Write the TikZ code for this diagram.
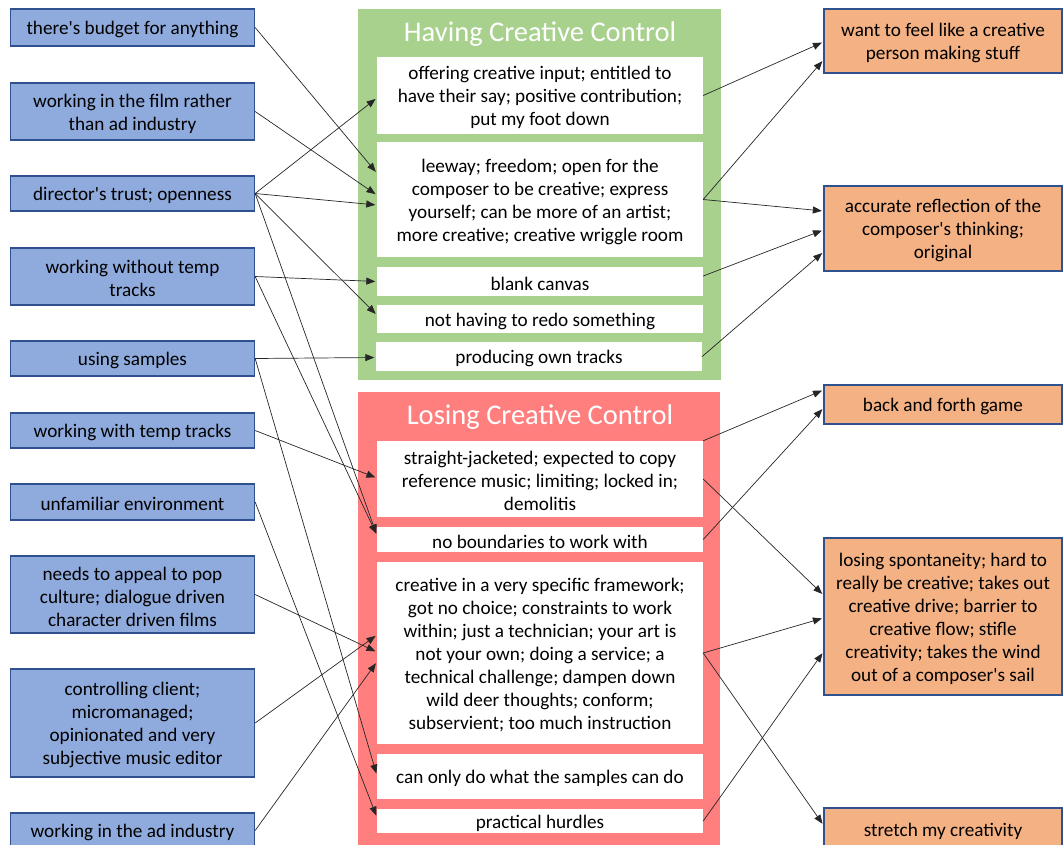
\documentclass[tikz,border=0pt]{standalone}
\usepackage{fontspec}
\setmainfont{Carlito}[Ligatures=TeXOff]
\usetikzlibrary{arrows.meta,calc}
\definecolor{bluefill}{HTML}{8FAADC}
\definecolor{blueline}{HTML}{2F528F}
\definecolor{greenfill}{HTML}{A9D18E}
\definecolor{redfill}{HTML}{FF7F7F}
\definecolor{orangefill}{HTML}{F4B183}
\begin{document}
\begin{tikzpicture}[x=1pt,y=-1pt,
 lab/.style={font=\fontsize{19.2}{23}\selectfont, align=center, inner sep=0pt, text=black, yshift=-2pt},
 box/.style={inner sep=0pt},
 leftbox/.style={box, draw=blueline, line width=1.3pt, fill=bluefill, minimum width=244pt},
 outbox/.style={box, draw=blueline, line width=1.3pt, fill=orangefill, minimum width=238pt},
 inbox/.style={box, fill=white, minimum width=326pt},
 panel/.style={inner sep=0pt},
 ptitle/.style={font=\fontsize{28.5}{34}\selectfont, text=white, inner sep=0pt},
 conn/.style={line width=0.7pt, draw=black!85, shorten >=1.5pt, -{Triangle[length=9pt,width=7pt]}}]
\useasboundingbox (0,0) rectangle (1063,844);
\clip (0,0) rectangle (1063,844);

% panels
\node[panel, fill=greenfill, minimum width=363pt, minimum height=371pt] (GP) at (539.5,194.5) {};
\node[panel, fill=redfill, minimum width=362pt, minimum height=458pt] (RP) at (539,621) {};
\node[ptitle] (GT) at (540,34) {Having Creative Control};
\node[ptitle] (RT) at (540,417) {Losing Creative Control};

% green inner boxes
\node[inbox, minimum height=77pt, label={[lab]center:{offering creative input; entitled to\\have their say; positive contribution;\\put my foot down}}] (G1) at (540,95.5) {};
\node[inbox, minimum height=115pt, label={[lab]center:{leeway; freedom; open for the\\composer to be creative; express\\yourself; can be more of an artist;\\more creative; creative wriggle room}}] (G2) at (540,199.5) {};
\node[inbox, minimum height=29pt, label={[lab]center:{blank canvas}}] (G3) at (540,281.5) {};
\node[inbox, minimum height=28pt, label={[lab]center:{not having to redo something}}] (G4) at (540,319) {};
\node[inbox, minimum height=29pt, label={[lab]center:{producing own tracks}}] (G5) at (539,356.5) {};

% red inner boxes
\node[inbox, minimum height=76pt, label={[lab]center:{straight-jacketed; expected to copy\\reference music; limiting; locked in;\\demolitis}}] (R1) at (540,479) {};
\node[inbox, minimum height=25pt, label={[lab]center:{no boundaries to work with}}] (R2) at (540,539.5) {};
\node[inbox, minimum height=182pt, label={[lab]center:{creative in a very specific framework;\\got no choice; constraints to work\\within; just a technician; your art is\\not your own; doing a service; a\\technical challenge; dampen down\\wild deer thoughts; conform;\\subservient; too much instruction}}] (R3) at (540,653) {};
\node[inbox, minimum height=45pt, label={[lab]center:{can only do what the samples can do}}] (R4) at (540,776.5) {};
\node[inbox, minimum height=24pt, label={[lab]center:{practical hurdles}}] (R5) at (540,821) {};

% left boxes
\node[leftbox, minimum height=37pt, label={[lab]center:{there's budget for anything}}] (L1) at (132.5,27.5) {};
\node[leftbox, minimum height=57pt, label={[lab]center:{working in the film rather\\than ad industry}}] (L2) at (132.5,111.5) {};
\node[leftbox, minimum height=35pt, label={[lab]center:{director's trust; openness}}] (L3) at (132.5,193.5) {};
\node[leftbox, minimum height=57pt, label={[lab]center:{working without temp\\tracks}}] (L4) at (132.5,276.5) {};
\node[leftbox, minimum height=35pt, label={[lab]center:{using samples}}] (L5) at (132.5,358.5) {};
\node[leftbox, minimum height=35pt, label={[lab]center:{working with temp tracks}}] (L6) at (132.5,430.5) {};
\node[leftbox, minimum height=36pt, label={[lab]center:{unfamiliar environment}}] (L7) at (132.5,502) {};
\node[leftbox, minimum height=77pt, label={[lab]center:{needs to appeal to pop\\culture; dialogue driven\\character driven films}}] (L8) at (132.5,594.5) {};
\node[leftbox, minimum height=108pt, label={[lab]center:{controlling client;\\micromanaged;\\opinionated and very\\subjective music editor}}] (L9) at (132.5,723) {};
\node[leftbox, minimum height=35pt, label={[lab]center:{working in the ad industry}}] (L10) at (132.5,830.5) {};

% right boxes
\node[outbox, minimum height=64pt, label={[lab]center:{want to feel like a creative\\person making stuff}}] (O1) at (943,41) {};
\node[outbox, minimum height=85pt, label={[lab]center:{accurate reflection of the\\composer's thinking;\\original}}] (O2) at (943,228.5) {};
\node[outbox, minimum height=39pt, label={[lab]center:{back and forth game}}] (O3) at (943,404.5) {};
\node[outbox, minimum height=157pt, label={[lab]center:{losing spontaneity; hard to\\really be creative; takes out\\creative drive; barrier to\\creative flow; stifle\\creativity; takes the wind\\out of a composer's sail}}] (O4) at (943,616.5) {};
\node[outbox, minimum height=42pt, label={[lab]center:{stretch my creativity}}] (O5) at (943,829) {};

% left -> middle
\draw[conn] (L1.east) -- ($(G2.west)+(0,-26.5)$);
\draw[conn] (L2.east) -- ($(G2.west)+(0,-4.5)$);
\draw[conn] (L3.east) -- ($(G1.west)+(0,2.5)$);
\draw[conn] (L3.east) -- ($(G2.west)+(0,5.5)$);
\draw[conn] (L3.east) -- ($(G4.west)+(0,-4)$);
\draw[conn] (L3.east) -- ($(R2.west)+(0,-4.5)$);
\draw[conn] (L4.east) -- ($(G3.west)+(0,0)$);
\draw[conn] (L4.east) -- ($(R2.west)+(0,-4.5)$);
\draw[conn] (L5.east) -- ($(G5.west)+(0,1)$);
\draw[conn] (L5.east) -- ($(R4.west)+(0,-1.5)$);
\draw[conn] (L6.east) -- ($(R1.west)+(0,-1)$);
\draw[conn] (L7.east) -- ($(R5.west)+(0,-4)$);
\draw[conn] (L8.east) -- ($(R3.west)+(0,-1)$);
\draw[conn] (L9.east) -- ($(R3.west)+(0,-18)$);
\draw[conn] (L10.east) -- ($(R3.west)+(0,9)$);

% middle -> right
\draw[conn] (G1.east) -- ($(O1.west)+(0,1)$);
\draw[conn] (G2.east) -- ($(O1.west)+(0,19)$);
\draw[conn] (G2.east) -- ($(O2.west)+(0,-17.5)$);
\draw[conn] ($(G3.east)+(0,-5.5)$) -- ($(O2.west)+(0,1.5)$);
\draw[conn] (G5.east) -- ($(O2.west)+(0,23.5)$);
\draw[conn] (R1.north east) -- ($(O3.west)+(0,-14.5)$);
\draw[conn] (R1.east) -- ($(O4.west)+(0,-21.5)$);
\draw[conn] (R2.east) -- ($(O3.west)+(0,3.5)$);
\draw[conn] (R3.east) -- ($(O4.west)+(0,1.5)$);
\draw[conn] (R3.east) -- ($(O5.west)+(0,-4)$);
\draw[conn] (R5.east) -- ($(O4.west)+(0,35.5)$);
\end{tikzpicture}
\end{document}
